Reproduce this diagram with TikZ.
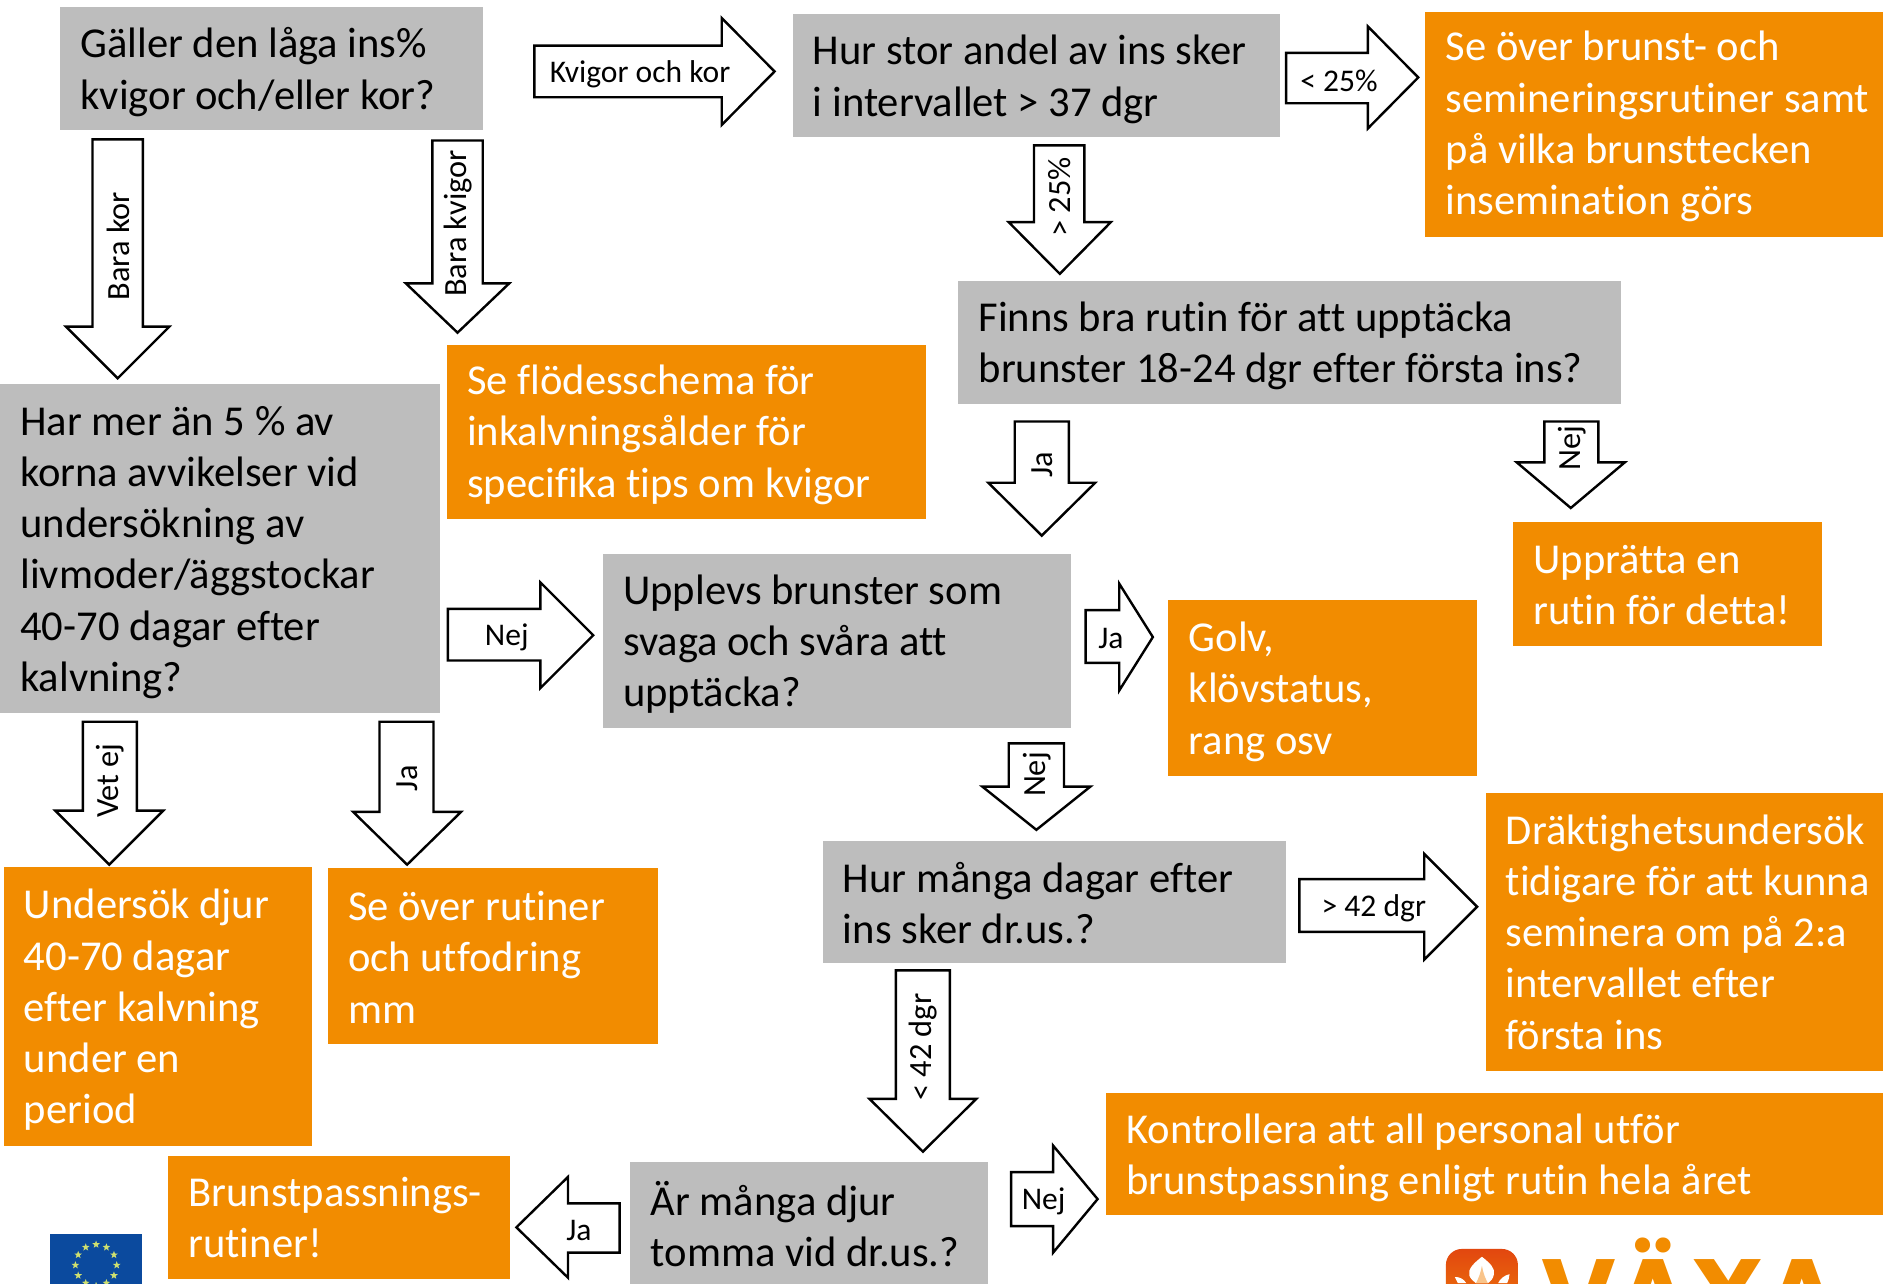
\documentclass[tikz,border=0pt]{standalone}
\usepackage{fontspec}
\setmainfont{Carlito}[Ligatures=NoCommon]
\newfontfamily\logofont{Poppins}
\usetikzlibrary{shapes.geometric}
\definecolor{boxgray}{HTML}{BDBDBD}
\definecolor{boxorange}{HTML}{F28C00}
\definecolor{euflag}{HTML}{0B4A9E}
\definecolor{eustar}{HTML}{CFE070}
\definecolor{logored}{HTML}{E2470F}
\definecolor{logoorange}{HTML}{EE7E0A}
\definecolor{logopale}{HTML}{F9C48A}
\tikzset{
  flowbox/.style={rectangle,draw=none,inner sep=0pt,
    font=\fontsize{26.6}{32}\selectfont},
  questionbox/.style={flowbox,fill=boxgray,text=black},
  advicebox/.style={flowbox,fill=boxorange,text=white},
  blockarrow/.style={draw=black,fill=white,line width=1.5pt,line join=miter},
  arrowlabel/.style={inner sep=0pt,font=\fontsize{19.7}{24}\selectfont},
  vlabel/.style={inner sep=0pt,rotate=90,font=\fontsize{20.2}{24}\selectfont}
}
\newcommand{\down}[1]{\vspace*{#1\dimexpr1.5pt\relax}}
% style, name, x1, y1, x2, y2, text
\newcommand{\flowbox}[7]{%
  \pgfmathsetmacro\bw{(#5-#3)*0.75}%
  \pgfmathsetmacro\bh{(#6-#4)*0.75}%
  \node[#1,minimum width=\bw pt,minimum height=\bh pt]
    (#2) at ({(#3+#5)/2},{(#4+#6)/2}) {\parbox{\bw pt}{\raggedright\leftskip=12.7pt\relax #7}};}
% name, tail x, body top, body bottom, head x, head top, head bottom, tip x, label x, label
\newcommand{\harrow}[9]{%
  \def\hname{#1}\def\htail{#2}\def\hbt{#3}\def\hbb{#4}\def\hhx{#5}\def\hht{#6}\def\hhb{#7}\def\htip{#8}\def\hlx{#9}%
  \harrowfinish}
\newcommand{\harrowfinish}[1]{%
  \draw[blockarrow] (\htail,\hbt)--(\hhx,\hbt)--(\hhx,\hht)--(\htip,{(\hht+\hhb)/2})--(\hhx,\hhb)--(\hhx,\hbb)--(\htail,\hbb)--cycle;
  \node[arrowlabel] (\hname) at (\hlx,{(\hbt+\hbb)/2+2}) {#1};}
% name, body left, body right, top, head y, head left, head right, tip y, label y, label
\newcommand{\varrow}[9]{%
  \def\vname{#1}\def\vbl{#2}\def\vbr{#3}\def\vtop{#4}\def\vhy{#5}\def\vhl{#6}\def\vhr{#7}\def\vtip{#8}\def\vly{#9}%
  \varrowfinish}
\newcommand{\varrowfinish}[1]{%
  \draw[blockarrow] (\vbl,\vtop)--(\vbr,\vtop)--(\vbr,\vhy)--(\vhr,\vhy)--({(\vhl+\vhr)/2},\vtip)--(\vhl,\vhy)--(\vbl,\vhy)--cycle;
  \node[vlabel] (\vname) at ({(\vbl+\vbr)/2+0.5},\vly) {#1};}
\begin{document}
\begin{tikzpicture}[x=0.75pt,y=-0.75pt]
\useasboundingbox (0,0) rectangle (1568,1068.4);
\begin{scope}
\clip (0,0) rectangle (1568,1068.4);
\fill[white] (0,0) rectangle (1568,1068.4);

\flowbox{questionbox}{q1}{50}{6}{402}{108}{\down{3}Gäller den låga ins\%\\kvigor och/eller kor?}
\flowbox{questionbox}{q2}{660}{12}{1066}{114}{\down{3}Hur stor andel av ins sker\\i intervallet > 37 dgr}
\flowbox{advicebox}{a1}{1187}{10}{1568}{197}{\down{2}Se över brunst- och\\semineringsrutiner samt\\på vilka brunsttecken\\insemination görs}
\flowbox{questionbox}{q3}{798}{234}{1350}{336}{\down{3}Finns bra rutin för att upptäcka\\brunster 18-24 dgr efter första ins?}
\flowbox{advicebox}{a2}{372}{287}{771}{432}{\down{2.5}Se flödesschema för\\inkalvningsålder för\\specifika tips om kvigor}
\flowbox{questionbox}{q4}{0}{320}{366}{594}{\down{3}Har mer än 5 \% av\\korna avvikelser vid\\undersökning av\\livmoder/äggstockar\\40-70 dagar efter\\kalvning?}
\flowbox{questionbox}{q5}{502}{461}{892}{606}{\down{3}Upplevs brunster som\\svaga och svåra att\\upptäcka?}
\flowbox{advicebox}{a3}{973}{500}{1230}{646}{\down{3}Golv,\\klövstatus,\\rang osv}
\flowbox{advicebox}{a4}{1260}{435}{1517}{538}{\down{1}Upprätta en\\rutin för detta!}
\flowbox{questionbox}{q6}{685}{700}{1071}{802}{\down{1}Hur många dagar efter\\ins sker dr.us.?}
\flowbox{advicebox}{a5}{1237}{660}{1568}{892}{Dräktighetsundersök\\tidigare för att kunna\\seminera om på 2:a\\intervallet efter\\första ins}
\flowbox{advicebox}{a6}{3}{722}{260}{954}{\down{3}Undersök djur\\40-70 dagar\\efter kalvning\\under en\\period}
\flowbox{advicebox}{a7}{273}{723}{548}{869}{\down{1}Se över rutiner\\och utfodring\\mm}
\flowbox{questionbox}{q7}{525}{968}{823}{1070}{Är många djur\\tomma vid dr.us.?}
\flowbox{advicebox}{a8}{921}{910}{1568}{1012}{\down{3}Kontrollera att all personal utför\\brunstpassning enligt rutin hela året}
\flowbox{advicebox}{a9}{140}{963}{425}{1065}{Brunstpassnings-\\rutiner!}

\harrow{l1}{445}{38}{81}{601}{15}{104}{645}{533}{Kvigor och kor}
\varrow{l2}{77}{119}{116}{272}{55}{141}{315}{205}{Bara kor}
\varrow{l3}{360}{402}{117}{236}{338}{424}{277}{186}{Bara kvigor}
\harrow{l4}{1071}{44}{86}{1139}{22}{107}{1181}{1115}{< 25\%}
\varrow{l5}{861}{903}{121}{185}{840}{925}{228}{164}{> 25\%}
\varrow{l6}{845}{890}{351}{402}{823}{912}{446}{387}{Ja}
\varrow{l7}{1286}{1331}{351}{385}{1263}{1353}{423}{373}{Nej}
\harrow{l8}{373}{507}{550}{450}{485}{573}{494}{422}{Nej}
\harrow{l9}{904}{508}{552}{932}{486}{575}{960}{925}{Ja}
\varrow{l10}{840}{886}{619}{655}{818}{908}{691}{645}{Nej}
\varrow{l11}{69}{114}{601}{675}{46}{136}{720}{650}{Vet ej}
\varrow{l12}{316}{361}{601}{676}{294}{384}{720}{648}{Ja}
\harrow{l13}{1082}{732}{776}{1186}{711}{799}{1230}{1144}{> 42 dgr}
\varrow{l14}{746}{791}{808}{915}{724}{813}{959}{872}{< 42 dgr}
\harrow{l15}{516}{1002}{1043}{473}{980}{1064}{430}{482}{Ja}
\harrow{l16}{842}{976}{1021}{877}{954}{1043}{914}{869}{Nej}

% EU flag
\fill[euflag] (41.6,1027.6) rectangle (118,1080);
\foreach \i in {0,...,11}
  \node[star,star points=5,star point ratio=2.4,fill=eustar,inner sep=0pt,minimum size=5pt] (eu\i)
    at ({80+17.2*cos(30*\i)},{1053.5-17.2*sin(30*\i)}) {};

% VÄXA logo
\shade[top color=logored,bottom color=logoorange,rounded corners=10pt] (1204,1040) rectangle (1264,1100);
\fill[white] (1234,1046.5) .. controls (1227,1052) and (1222,1057) .. (1223.5,1062)
  .. controls (1224.5,1065) and (1227,1067) .. (1229,1068.5) -- (1239,1068.5)
  .. controls (1241,1067) and (1243.5,1065) .. (1244,1061) .. controls (1245,1056) and (1241,1052) .. (1234,1046.5) -- cycle;
\fill[logopale] (1234,1054) .. controls (1233,1060) and (1231,1065) .. (1229,1068.5) -- (1239,1068.5) .. controls (1237,1065) and (1235,1060) .. (1234,1054) -- cycle;
\fill[white] (1211.5,1063.5) .. controls (1215,1063) and (1219,1065) .. (1221,1068.5) -- (1214,1068.5) -- cycle;
\fill[white] (1257,1061) .. controls (1252.5,1062) and (1249,1065) .. (1247.5,1068.5) -- (1255,1068.5) .. controls (1256,1066) and (1257,1064) .. (1257,1061) -- cycle;
\node[anchor=base west,inner sep=0pt,text=boxorange,font=\logofont\fontsize{64}{64}\selectfont\bfseries] (voxa)
  at (1283,1109) {VÄXA};
\end{scope}
\end{tikzpicture}
\end{document}
